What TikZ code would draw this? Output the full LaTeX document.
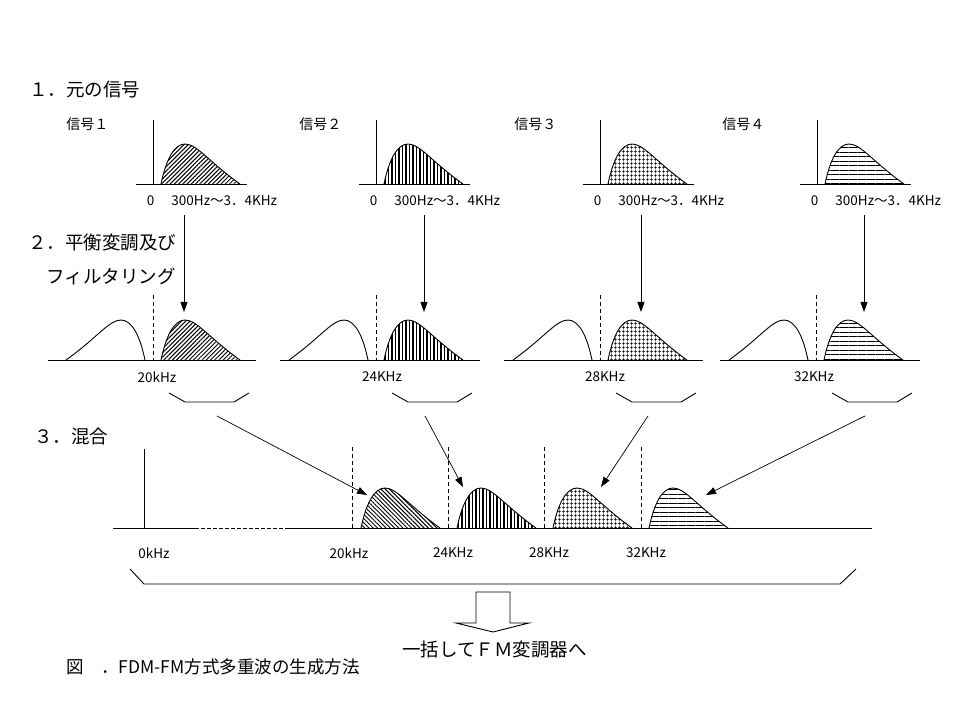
\documentclass[tikz,border=0pt]{standalone}
\usepackage{fontspec}
\setmainfont{Noto Sans CJK JP}
\usetikzlibrary{arrows.meta,patterns.meta}
\newcommand\humpat[3]{\path[#1] ({#2},{#3}) .. controls +(5,-24) and +(-11,0) .. ++(24,-40) .. controls +(12,0) and +(-31,-22) .. ++(55,40);}
\newcommand\humpmir[3]{\path[#1] ({#2},{#3}) .. controls +(-5,-24) and +(11,0) .. ++(-24,-40) .. controls +(-12,0) and +(31,-22) .. ++(-55,40);}
\begin{document}
\begin{tikzpicture}[x=1pt,y=-1pt,line width=0.9pt,
  dsh/.style={dash pattern=on 4pt off 3pt},
  arr/.style={-{Triangle[length=10pt,width=7pt]}},
  ttl/.style={anchor=west,inner sep=0,font=\fontsize{18.5}{20}\selectfont},
  sig/.style={anchor=west,inner sep=0,font=\fontsize{14}{16}\selectfont},
  lbl/.style={inner sep=0,font=\fontsize{13.5}{15}\selectfont},
  captxt/.style={anchor=west,inner sep=0,font=\fontsize{17.5}{19}\selectfont},
  pA/.style={draw,pattern={Lines[angle=45,distance=3pt,line width=1pt]}},
  pAr/.style={draw,pattern={Lines[angle=-45,distance=3pt,line width=1pt]}},
  pB/.style={draw,pattern={Lines[angle=90,distance=3.5pt,line width=1.2pt]}},
  pC/.style={draw,pattern={Hatch[angle=0,distance=4pt,line width=0.8pt]}},
  pD/.style={draw,pattern={Lines[angle=0,distance=4.5pt,line width=0.8pt]}}]
\useasboundingbox (0,0) rectangle (959,719);
\fill[white] (0,0) rectangle (959,719);

% section titles
\node[ttl] (t1) at (29,90) {１．元の信号};
\node[ttl] (t2) at (28,243) {２．平衡変調及び};
\node[ttl] (t2b) at (46,276) {フィルタリング};
\node[ttl] (t3) at (34,436) {３．混合};

% top row: original signals
\foreach \a/\p/\n in {153/pA/1,376/pB/2,600/pC/3,817/pD/4}{
  \draw (\a,120) -- (\a,184);
  \draw ({\a-17},184) -- ({\a+94},184);
  \humpat{\p}{\a+8}{184}
  \node[lbl] (z\n) at ({\a-2.5},201) {0};
  \node[lbl,anchor=west] (f\n) at ({\a+18},201) {300Hz～3．4KHz};
}
\node[sig] (s1) at (66,124) {信号１};
\node[sig] (s2) at (299,124) {信号２};
\node[sig] (s3) at (514,124) {信号３};
\node[sig] (s4) at (722,124) {信号４};

% middle row: modulated and filtered
\foreach \d/\p/\bl/\br/\lx/\lab/\ax/\n in {153/pA/48/256/157/20kHz/184/1,376/pB/280/480/382/24KHz/424/2,600/pC/504/703/605/28KHz/641/3,816/pD/720/920/814/32KHz/864/4}{
  \draw (\bl,360) -- (\br,360);
  \draw[dsh] (\d,295) -- (\d,360);
  \humpmir{draw}{\d-8}{360}
  \humpat{\p}{\d+8}{360}
  \node[lbl] (m\n) at (\lx,377) {\lab};
  \draw ({\d+16},393) -- ({\d+32},402) -- ({\d+81},402) -- ({\d+96},393);
  \coordinate (as\n) at (\ax,215);
  \coordinate (ae\n) at (\ax,312);
  \draw[arr] (as\n) -- (ae\n);
}

% bottom row: mixed
\draw (113,528) -- (195,528);
\draw[dash pattern=on 4pt off 2pt] (195,528) -- (288,528);
\draw (288,528) -- (872,528);
\draw (144,449) -- (144,528);
\foreach \d in {352,448,544,641}{\draw[dsh] (\d,447) -- (\d,528);}
\humpat{pAr}{361}{528}
\humpat{pB}{457}{528}
\humpat{pC}{553}{528}
\humpat{pD}{649}{528}
\node[lbl] (b0) at (154,553) {0kHz};
\node[lbl] (b1) at (349,553) {20kHz};
\node[lbl] (b2) at (453,553) {24KHz};
\node[lbl] (b3) at (549,553) {28KHz};
\node[lbl] (b4) at (646,553) {32KHz};

% diagonal arrows
\coordinate (ds1) at (217,416); \coordinate (de1) at (367,495);
\coordinate (ds2) at (425,416); \coordinate (de2) at (463,487);
\coordinate (ds3) at (648,416); \coordinate (de3) at (601,487);
\coordinate (ds4) at (865,416); \coordinate (de4) at (706,495);
\foreach \n in {1,2,3,4}{\draw[arr,line width=0.7pt] (ds\n) -- (de\n);}

% big bracket
\draw (130,569) -- (144,584) -- (840,584) -- (856,569);

% block arrow
\draw (476,592) -- (510,592) -- (510,623) -- (529,623) -- (493,632) -- (456,623) -- (476,623) -- cycle;
\node[ttl] (out) at (402,650) {一括してＦＭ変調器へ};

% caption
\node[captxt] (capt) at (66,667) {図　．FDM-FM方式多重波の生成方法};
\end{tikzpicture}
\end{document}
